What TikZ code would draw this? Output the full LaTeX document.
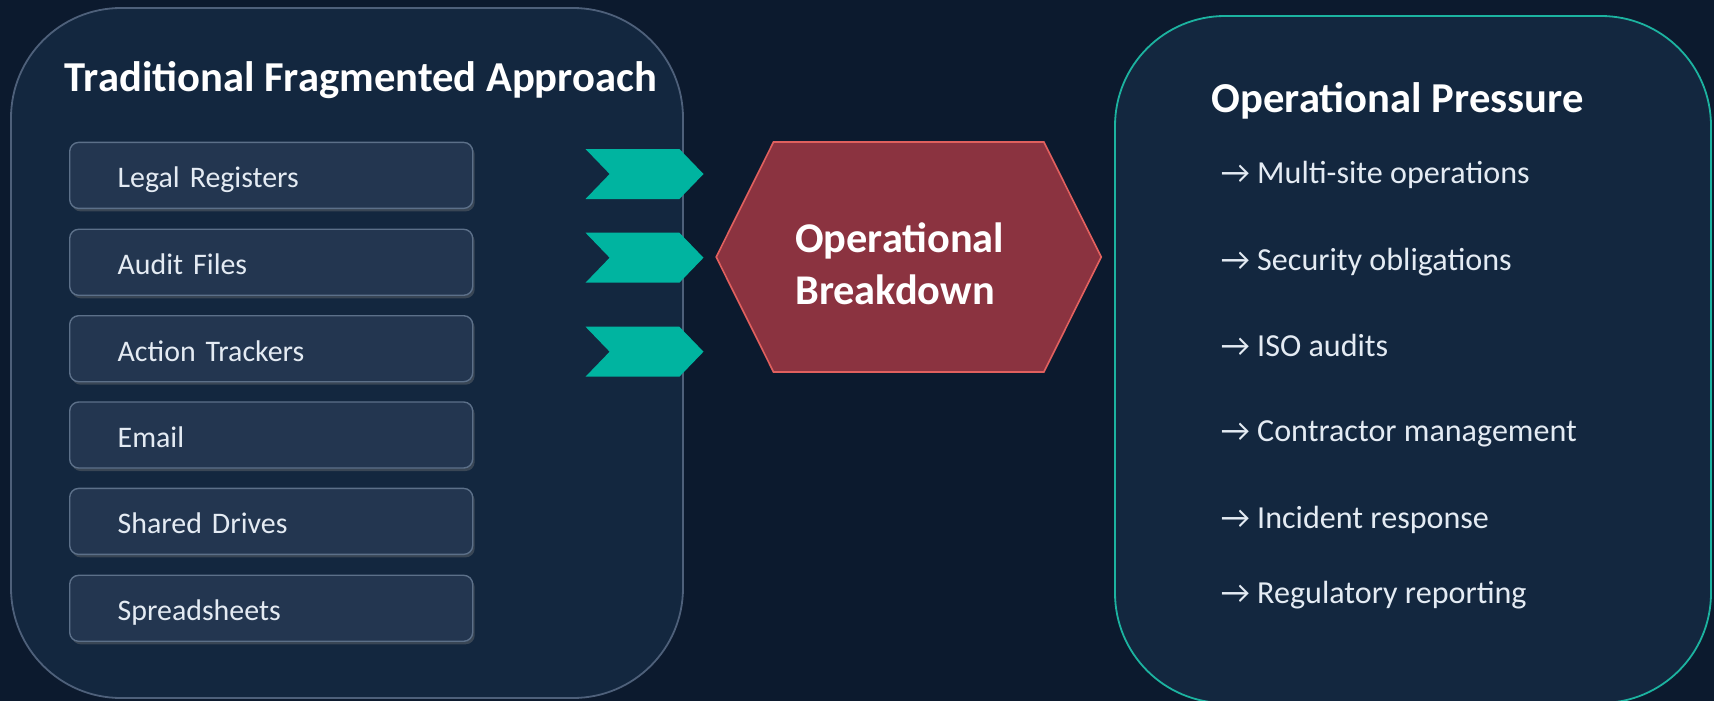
\documentclass[tikz,border=0pt]{standalone}
\usepackage{fontspec}
\setmainfont{Carlito}
\usepackage{tikz}
\usetikzlibrary{shapes.symbols,shadows}
\definecolor{bgnavy}{HTML}{0C1A2E}
\definecolor{panelfill}{HTML}{13273F}
\definecolor{panelline}{HTML}{4E607A}
\definecolor{itemfill}{HTML}{233650}
\definecolor{itemline}{HTML}{5C7089}
\definecolor{itemtext}{HTML}{E4EBF3}
\definecolor{chevteal}{HTML}{00B4A0}
\definecolor{pressteal}{HTML}{1CB3A0}
\definecolor{hexfill}{HTML}{8B3340}
\definecolor{hexline}{HTML}{E0605E}
\tikzset{
  panel/.style={shape=rectangle,fill=panelfill,line width=1.3pt,rounded corners=1.1in},
  paneltitle/.style={anchor=base,text=white,font=\bfseries\fontsize{30.8}{36}\selectfont},
  sourcebox/.style={shape=rectangle,draw=itemline,fill=itemfill,line width=1pt,rounded corners=0.09in,
    minimum width=4.03in,minimum height=0.66in,inner xsep=0.48in,text width=3.07in,align=left,
    anchor=west,text=itemtext,text height=18pt,text depth=0pt,font=\fontsize{21.6}{26}\selectfont,
    drop shadow={shadow xshift=0.02in,shadow yshift=-0.03in,opacity=0.35}},
  chevron/.style={shape=signal,signal to=east,signal from=west,signal pointer angle=92,
    fill=chevteal,minimum width=1.18in,minimum height=0.5in,inner sep=0pt},
  breakdown/.style={shape=signal,signal to=east and west,signal pointer angle=127,draw=hexline,
    line width=1.2pt,fill=hexfill,minimum width=3.85in,minimum height=2.3in,align=left,
    text=white,font=\bfseries\fontsize{30.6}{38}\selectfont},
  pressure/.style={anchor=base west,text=itemtext,font=\fontsize{23.2}{28}\selectfont}
}

\begin{document}
\begin{tikzpicture}

\useasboundingbox (0,0) rectangle (17.14in,-7.01in);
\fill [bgnavy] (0,0) rectangle (17.14in,-7.01in);

% the two panels
\path (3.47in,-3.53in) node [panel,draw=panelline,minimum width=6.72in,minimum height=6.9in] (trad) {};
\path (14.13in,-3.595in) node [panel,draw=pressteal,minimum width=5.96in,minimum height=6.87in] (press) {};

\path (3.61in,-0.917in) node [paneltitle] (tradtitle) {Traditional Fragmented Approach};
\path (13.976in,-1.127in) node [paneltitle] (presstitle) {Operational Pressure};

% left column
\path (0.69in,-1.754in) node [sourcebox] (legal) {Legal Registers};
\path (0.69in,-2.623in) node [sourcebox] (audit) {Audit Files};
\path (0.69in,-3.487in) node [sourcebox] (tracker) {Action Trackers};
\path (0.69in,-4.350in) node [sourcebox] (email) {Email};
\path (0.69in,-5.214in) node [sourcebox] (drives) {Shared Drives};
\path (0.69in,-6.083in) node [sourcebox] (sheets) {Spreadsheets};

% chevrons
\path (6.445in,-1.74in) node [chevron] (chevA) {};
\path (6.445in,-2.577in) node [chevron] (chevB) {};
\path (6.445in,-3.517in) node [chevron] (chevC) {};

\path (9.087in,-2.57in) node [breakdown] (hex) {Operational\rule{0.18in}{0pt}\rule{0pt}{0.43in}\\Breakdown};

% right column
\path (12.16in,-1.837in) node [pressure] (multisite) {→ Multi-site operations};
\path (12.16in,-2.703in) node [pressure] (security) {→ Security obligations};
\path (12.16in,-3.56in) node [pressure] (iso) {→ ISO audits};
\path (12.16in,-4.413in) node [pressure] (contractor) {→ Contractor management};
\path (12.16in,-5.28in) node [pressure] (incident) {→ Incident response};
\path (12.16in,-6.037in) node [pressure] (regulatory) {→ Regulatory reporting};

\end{tikzpicture}
\end{document}
